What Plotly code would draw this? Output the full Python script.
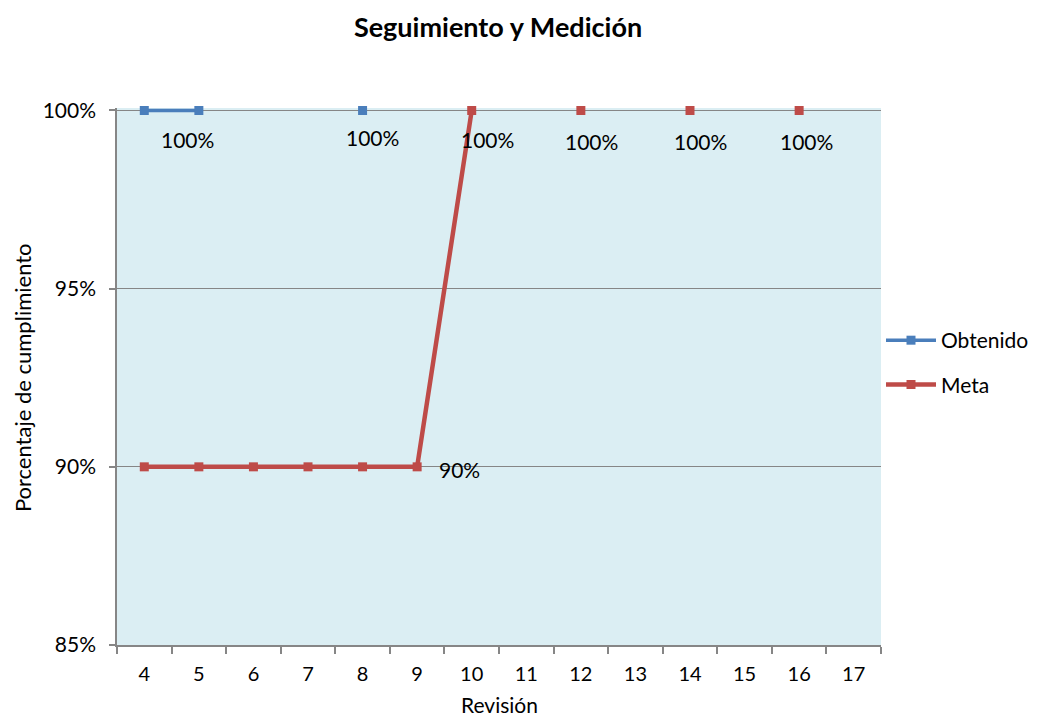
import plotly.graph_objects as go

categories = ["4", "5", "6", "7", "8", "9", "10", "11", "12", "13", "14", "15", "16", "17"]
obtenido = [100, 100, None, None, 100, None, None, None, None, None, None, None, None, None]
meta = [90, 90, 90, 90, 90, 90, 100, None, 100, None, 100, None, 100, None]
y_ticks = [85, 90, 95, 100]
y_tick_labels = ["85%", "90%", "95%", "100%"]

# data labels: (category, value) and pixel offsets
label_points = [("5", 100), ("8", 100), ("10", 100), ("12", 100), ("14", 100), ("16", 100), ("9", 90)]
label_shifts = [(-11, -29), (10, -27), (16, -29), (11, -31), (10, -31), (7, -31), (42, -3)]

FONT = "Lato, 'Open Sans', sans-serif"
BLUE = "#4A7EBB"
RED = "#BE4B48"

fig = go.Figure()
fig.add_trace(go.Scatter(
    x=categories, y=obtenido, name="Obtenido", mode="lines+markers", legendgroup="a",
    line=dict(color=BLUE, width=3.5), marker=dict(symbol="square", size=9, color=BLUE),
    connectgaps=False, cliponaxis=False))
fig.add_trace(go.Scatter(
    x=categories, y=meta, name="Meta", mode="lines+markers", legendgroup="b",
    line=dict(color=RED, width=4.5), marker=dict(symbol="square", size=9, color=RED),
    connectgaps=False, cliponaxis=False))

for (cx, val), (dx, dy) in zip(label_points, label_shifts):
    fig.add_annotation(x=categories.index(cx), y=val, text=f"{val}%", showarrow=False,
                       xshift=dx, yshift=dy,
                       font=dict(family=FONT, size=21, color="#000000"))

# axis titles
fig.add_annotation(text="Revisión", xref="paper", yref="paper", x=0.5, y=0,
                   yshift=-59, xanchor="center", yanchor="middle", showarrow=False,
                   font=dict(family=FONT, size=21, color="#000000"))
fig.add_annotation(text="Porcentaje de cumplimiento", xref="paper", yref="paper", x=0, y=0.497,
                   xshift=-95, xanchor="center", yanchor="middle", textangle=-90,
                   showarrow=False, font=dict(family=FONT, size=22, color="#000000"))

fig.update_layout(
    width=1023, height=709,
    margin=dict(l=109, r=150, t=99.5, b=72, autoexpand=False),
    paper_bgcolor="white", plot_bgcolor="#DBEEF3",
    title=dict(text="<b>Seguimiento y Medición</b>", x=0.479, xanchor="center",
               y=0.972, yanchor="middle",
               font=dict(family=FONT, size=27, color="#000000")),
    font=dict(family=FONT, size=20, color="#000000"),
    legend=dict(x=1.0, y=0.526, xanchor="left", yanchor="middle",
                font=dict(family=FONT, size=21), tracegroupgap=14, traceorder="grouped",
                itemwidth=50, bgcolor="rgba(0,0,0,0)"),
    showlegend=True,
)
fig.update_xaxes(
    type="category", categoryorder="array", categoryarray=categories,
    range=[-0.5, len(categories) - 0.5], automargin=False,
    showline=True, linecolor="#868686", linewidth=1.5,
    ticks="outside", tickson="boundaries", ticklen=7, tickcolor="#868686", tickwidth=1.5,
    showgrid=False, zeroline=False, ticklabelstandoff=10,
    tickfont=dict(family=FONT, size=20),
)
fig.update_yaxes(
    range=[85, 100.07], tickvals=y_ticks, ticktext=y_tick_labels, automargin=False,
    showline=True, linecolor="#868686", linewidth=1.5,
    ticks="outside", ticklen=6, tickcolor="#868686", tickwidth=1.5,
    showgrid=True, gridcolor="#868686", gridwidth=1.2, zeroline=False, ticklabelstandoff=9,
    tickfont=dict(family=FONT, size=21),
)

fig.write_html("out.html")
